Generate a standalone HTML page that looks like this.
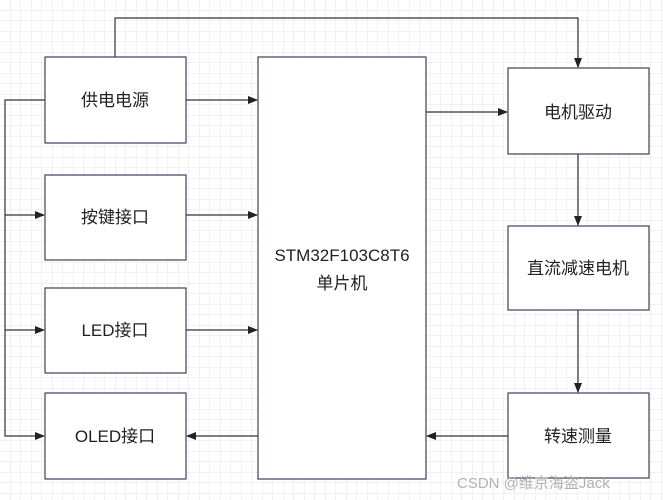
<!DOCTYPE html>
<html><head><meta charset="utf-8"><style>
html,body{margin:0;padding:0;background:#fff}
svg{display:block}
text{font-family:"Liberation Sans","Noto Sans CJK SC",sans-serif;font-size:17px;fill:#222}
</style></head><body>
<svg width="663" height="500" viewBox="0 0 663 500" xmlns="http://www.w3.org/2000/svg">
<defs>
<pattern id="g" width="10.5" height="10.5" patternUnits="userSpaceOnUse">
<path d="M10.5 0V10.5H0" fill="none" stroke="#e4e4e4" stroke-width="1"/>
</pattern>
<marker id="a" markerWidth="10" markerHeight="10" refX="9" refY="5" orient="auto" markerUnits="userSpaceOnUse">
<path d="M0 1L10 5L0 9Z" fill="#222"/>
</marker>
</defs>
<rect width="663" height="500" fill="url(#g)"/>
<g fill="none" stroke="#333" stroke-width="1.2">
<path d="M115 57V18H578V67" marker-end="url(#a)"/>
<path d="M45 100H5V436H44" marker-end="url(#a)"/>
<path d="M5 215H44" marker-end="url(#a)"/>
<path d="M5 330H44" marker-end="url(#a)"/>
<path d="M186 100H257" marker-end="url(#a)"/>
<path d="M186 215H257" marker-end="url(#a)"/>
<path d="M186 330H257" marker-end="url(#a)"/>
<path d="M258 436H187" marker-end="url(#a)"/>
<path d="M508 436H427" marker-end="url(#a)"/>
<path d="M426 112H507" marker-end="url(#a)"/>
<path d="M578 154V225" marker-end="url(#a)"/>
<path d="M578 310V392" marker-end="url(#a)"/>
</g>
<g fill="#fff" stroke="#3a3f5c" stroke-width="1.2">
<rect x="45" y="57" width="141" height="86"/>
<rect x="45" y="175" width="141" height="85"/>
<rect x="45" y="288" width="141" height="85"/>
<rect x="45" y="393" width="141" height="86"/>
<rect x="258" y="57" width="168" height="422"/>
<rect x="508" y="68" width="141" height="86"/>
<rect x="508" y="226" width="141" height="84"/>
<rect x="508" y="393" width="141" height="85"/>
</g>
<g text-anchor="middle">
<text x="115" y="106">供电电源</text>
<text x="115" y="223">按键接口</text>
<text x="115" y="336">LED接口</text>
<text x="115" y="442">OLED接口</text>
<text x="342" y="261">STM32F103C8T6</text>
<text x="342" y="289">单片机</text>
<text x="578" y="118">电机驱动</text>
<text x="578" y="274">直流减速电机</text>
<text x="578" y="442">转速测量</text>
</g>
<text x="457" y="488" style="font-size:15px;fill:#aaa;opacity:.9">CSDN @维京海盗Jack</text>
</svg>
</body></html>
